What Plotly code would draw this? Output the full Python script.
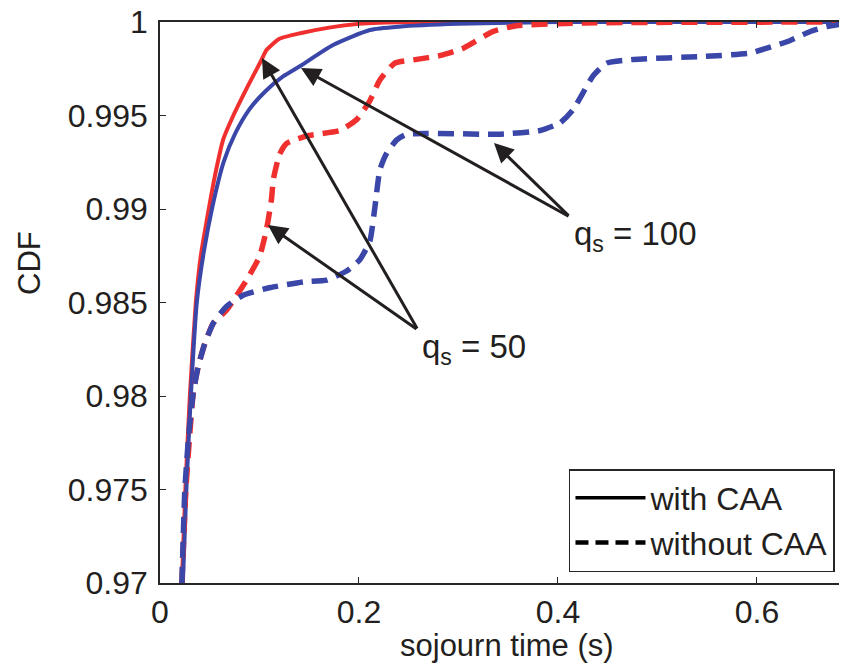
import plotly.graph_objects as go

# ---- data ----
red_solid_x = [0.022, 0.0255, 0.030, 0.036, 0.041, 0.049, 0.0553, 0.0634, 0.072, 0.088, 0.102, 0.107, 0.120, 0.141, 0.170, 0.200, 0.250, 0.700]
red_solid_y = [0.970, 0.975, 0.980, 0.985, 0.9875, 0.990, 0.9918, 0.9937, 0.9948, 0.99654, 0.99797, 0.9985, 0.9991, 0.9994, 0.9997, 0.9999, 1.0, 1.0]

blue_solid_x = [0.023, 0.0265, 0.031, 0.037, 0.044, 0.053, 0.064, 0.076, 0.090, 0.106, 0.124, 0.141, 0.174, 0.211, 0.240, 0.300, 0.400, 0.700]
blue_solid_y = [0.970, 0.975, 0.980, 0.985, 0.9877, 0.9902, 0.99252, 0.99408, 0.99534, 0.9963, 0.9971, 0.99765, 0.99877, 0.99957, 0.99975, 0.9999, 1.0, 1.0]

red_dash_x = [0.022, 0.026, 0.030, 0.0335, 0.0385, 0.045, 0.0536, 0.067, 0.087, 0.100, 0.107, 0.112, 0.114, 0.120, 0.127, 0.147,
              0.181, 0.198, 0.211, 0.221, 0.236, 0.258, 0.281, 0.305, 0.335, 0.358, 0.425, 0.700]
red_dash_y = [0.970, 0.975, 0.978, 0.9802, 0.9816, 0.9828, 0.9839, 0.9846, 0.9862, 0.98745, 0.9889, 0.9905, 0.9916, 0.9929, 0.9935, 0.9939,
              0.9942, 0.9948, 0.9958, 0.9969, 0.9978, 0.9980, 0.9982, 0.9986, 0.9995, 0.9998, 0.99995, 1.0]

blue_dash_x = [0.022, 0.025, 0.029, 0.0335, 0.0385, 0.045, 0.0536, 0.067, 0.084, 0.111, 0.144, 0.1675, 0.188, 0.201, 0.211, 0.216,
               0.221, 0.228, 0.238, 0.248, 0.342, 0.382, 0.402, 0.415, 0.425, 0.435, 0.449, 0.476, 0.543, 0.593, 0.610,
               0.633, 0.653, 0.670, 0.690, 0.700]
blue_dash_y = [0.970, 0.975, 0.978, 0.9802, 0.9816, 0.9828, 0.9839, 0.9848, 0.9854, 0.9858, 0.9861, 0.9862, 0.9867, 0.9873, 0.9883, 0.9901,
               0.9921, 0.9930, 0.9937, 0.9940, 0.9940, 0.9942, 0.9946, 0.9953, 0.9962, 0.9971, 0.9978, 0.9980, 0.99815, 0.99833, 0.9986,
               0.9990, 0.99948, 0.99975, 0.99993, 1.0]

x_ticks = [0, 0.2, 0.4, 0.6]
x_tick_labels = ["0", "0.2", "0.4", "0.6"]
y_ticks = [0.97, 0.975, 0.98, 0.985, 0.99, 0.995, 1.0]
y_tick_labels = ["0.97", "0.975", "0.98", "0.985", "0.99", "0.995", "1"]

legend_names = ["with CAA", "without CAA"]

# arrows: (tail_x, tail_y, head_x, head_y)
arrows_q50 = [(0.2593, 0.98353, 0.1085, 0.98914), (0.2593, 0.98353, 0.1025, 0.99807)]
arrows_q100 = [(0.4121, 0.98957, 0.1417, 0.99754), (0.4121, 0.98957, 0.3357, 0.99353)]

RED = "#f0302f"
BLUE = "#3a46a8"
FONT = "Liberation Sans, Arial, sans-serif"
AX = "#262626"
TXT = "#231f20"

fig = go.Figure()
fig.add_trace(go.Scatter(x=red_solid_x, y=red_solid_y, mode="lines", line=dict(color=RED, width=4, shape="spline", smoothing=0.5), showlegend=False))
fig.add_trace(go.Scatter(x=blue_solid_x, y=blue_solid_y, mode="lines", line=dict(color=BLUE, width=4, shape="spline", smoothing=0.6), showlegend=False))
fig.add_trace(go.Scatter(x=red_dash_x, y=red_dash_y, mode="lines", line=dict(color=RED, width=5.5, dash="16px,9px", shape="spline", smoothing=0.5), showlegend=False))
fig.add_trace(go.Scatter(x=blue_dash_x, y=blue_dash_y, mode="lines", line=dict(color=BLUE, width=5.5, dash="16px,9px", shape="spline", smoothing=0.5), showlegend=False))
# legend entries
fig.add_trace(go.Scatter(x=[None], y=[None], mode="lines", name=legend_names[0], line=dict(color="black", width=3.5)))
fig.add_trace(go.Scatter(x=[None], y=[None], mode="lines", name=legend_names[1], line=dict(color="black", width=4.5, dash="13px,7px")))

annotations = []
for (tx, ty, hx, hy) in arrows_q50 + arrows_q100:
    annotations.append(dict(x=hx, y=hy, ax=tx, ay=ty, xref="x", yref="y", axref="x", ayref="y",
                            text="", showarrow=True, arrowhead=2, arrowsize=1.3, arrowwidth=3,
                            arrowcolor=TXT, standoff=0, startstandoff=0))
annotations.append(dict(x=0.2613, y=0.9825, xref="x", yref="y", text="q<sub>s</sub> = 50", showarrow=False,
                        xanchor="left", yanchor="middle", font=dict(family=FONT, size=33, color=TXT)))
annotations.append(dict(x=0.4141, y=0.98855, xref="x", yref="y", text="q<sub>s</sub> = 100", showarrow=False,
                        xanchor="left", yanchor="middle", font=dict(family=FONT, size=33, color=TXT)))
annotations.append(dict(x=-0.1907, y=0.5704, xref="paper", yref="paper", text="CDF", textangle=-90, showarrow=False,
                        xanchor="center", yanchor="middle", font=dict(family=FONT, size=31, color=TXT)))
annotations.append(dict(x=0.5051, y=-0.111, xref="paper", yref="paper", text="sojourn time (s)", showarrow=False,
                        xanchor="center", yanchor="middle", font=dict(family=FONT, size=31, color=TXT)))

# page body adds an 8px margin, so the figure is sized/offset to compensate
fig.update_layout(
    width=839, height=657,
    margin=dict(l=152, r=0, t=14, b=82, autoexpand=False),
    plot_bgcolor="white", paper_bgcolor="white",
    font=dict(family=FONT, size=32, color=TXT),
    annotations=annotations,
    legend=dict(x=0.9825, y=0.0196, xanchor="right", yanchor="bottom",
                bordercolor=AX, borderwidth=1.5, bgcolor="white", itemwidth=70,
                font=dict(family=FONT, size=32, color=TXT), tracegroupgap=0),
    xaxis=dict(range=[0, 0.6905], tickvals=x_ticks, ticktext=x_tick_labels, ticks="inside", ticklen=6,
               tickcolor=AX, showline=True, linecolor=AX, linewidth=1.5, mirror="ticks", showgrid=False,
               zeroline=False, ticklabelstandoff=0, automargin=False),
    yaxis=dict(range=[0.97, 1.0], tickvals=y_ticks, ticktext=y_tick_labels, ticks="inside", ticklen=6,
               tickcolor=AX, showline=True, linecolor=AX, linewidth=1.5, showgrid=False, zeroline=False,
               ticklabelstandoff=4, automargin=False, ticklabeloverflow="allow"),
)

fig.write_html("out.html")
